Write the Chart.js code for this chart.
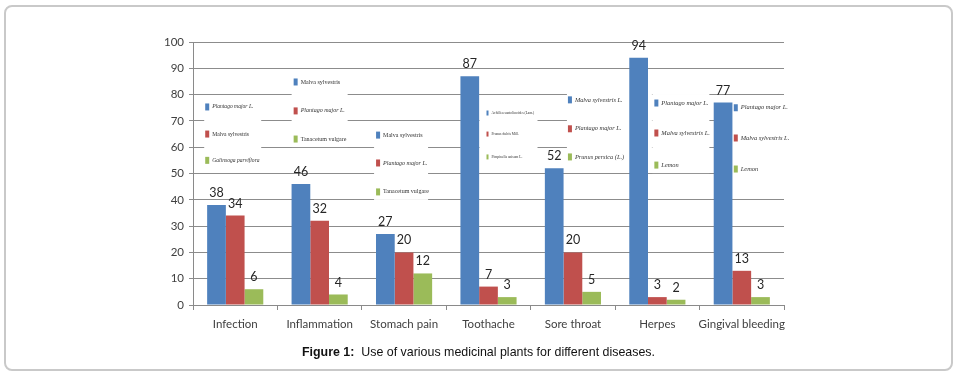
<!DOCTYPE html>
<html>
<head>
<meta charset="utf-8">
<script src="https://cdn.jsdelivr.net/npm/chart.js@4.4.1/dist/chart.umd.min.js"></script>
<style>
  html, body { margin: 0; padding: 0; background: #fff; }
  #wrap { position: relative; width: 957px; height: 382px; overflow: hidden; }
  #c { position: absolute; left: 0; top: 0; }
  #frame { position: absolute; left: 4px; top: 5px; width: 945px; height: 362px;
           border: 2px solid #c9c9c9; border-radius: 8px; pointer-events: none; }
  #caption { position: absolute; left: 0; top: 344px; width: 957px; text-align: center;
             font-family: "Liberation Sans Narrow", "Liberation Sans", Arial, sans-serif;
             font-size: 13px; color: #111; transform: scaleX(0.955); transform-origin: 478px 0; }
  #caption b { font-weight: bold; }
</style>
</head>
<body>
<div id="wrap">
  <canvas id="c" width="957" height="382"></canvas>
  <div id="frame"></div>
  <div id="caption"><b>Figure 1:</b>&nbsp; Use of various medicinal plants for different diseases.</div>
</div>
<script>
// ---- data ----
const categories = ["Infection", "Inflammation", "Stomach pain", "Toothache", "Sore throat", "Herpes", "Gingival bleeding"];
const firstPlant  = [38, 46, 27, 87, 52, 94, 77];
const secondPlant = [34, 32, 20, 7, 20, 3, 13];
const thirdPlant  = [6, 4, 12, 3, 5, 2, 3];
const yTicks = [0, 10, 20, 30, 40, 50, 60, 70, 80, 90, 100];

// plant names shown in each category's small legend box (first, second, third bar)
const plantNames = [
  ["Plantago major L.", "Malva sylvestris", "Galinsoga parviflora"],
  ["Malva sylvestris", "Plantago major L.", "Tanacetum vulgare"],
  ["Malva sylvestris", "Plantago major L.", "Tanacetum vulgare"],
  ["Achillea santolinoides (Lam.)", "Prunus dulcis Mill.", "Pimpinella anisum L."],
  ["Malva sylvestris L.", "Plantago major L.", "Prunus persica (L.)"],
  ["Plantago major L.", "Malva sylvestris L.", "Lemon"],
  ["Plantago major L.", "Malva sylvestris L.", "Lemon"]
];

// ---- styling / layout (not data) ----
const colors = ["#4F81BD", "#C0504D", "#9BBB59"];
// per-box layout: left/right offsets from category centre (px), marker offset,
// entry y positions in axis units, font size, italic flags
const boxLayout = [
  { l: -31, r: 26, m: -28, ys: [75.3, 65, 55],     fs: 5.6, it: [true, false, true] },
  { l: -28, r: 28, m: -24, ys: [84.8, 73.8, 63.1], fs: 6.0, it: [false, true, false] },
  { l: -30, r: 24, m: -26, ys: [64.6, 54, 43],     fs: 6.0, it: [false, true, false] },
  { l: -9,  r: 49, m: -1,  ys: [73, 65, 56.3],     fs: 3.6, it: [false, false, false] },
  { l: -6,  r: 79, m: -3,  ys: [78, 67, 56.3],     fs: 6.3, it: [true, true, true] },
  { l: -5,  r: 52, m: -1,  ys: [76.8, 65.4, 53.2], fs: 6.4, it: [true, true, true] },
  { l: -10, r: 48, m: -6,  ys: [75, 63.5, 51.7],   fs: 6.4, it: [true, true, true] }
];

const legendBoxes = {
  id: 'legendBoxes',
  beforeDatasetsDraw(chart) {
    const ctx = chart.ctx, xs = chart.scales.x, ys = chart.scales.y;
    ctx.save();
    categories.forEach((cat, i) => {
      const cx = xs.getPixelForValue(i);
      const b = boxLayout[i];
      const y0 = ys.getPixelForValue(b.ys[0]) - 9;
      const y1 = ys.getPixelForValue(b.ys[2]) + 8;
      ctx.fillStyle = '#ffffff';
      ctx.fillRect(cx + b.l, y0, b.r - b.l, y1 - y0);
      plantNames[i].forEach((name, k) => {
        const py = ys.getPixelForValue(b.ys[k]);
        const mw = b.fs < 5 ? 2 : 4, mh = b.fs < 5 ? 5 : 7;
        ctx.fillStyle = colors[k];
        ctx.fillRect(cx + b.m - mw / 2, py - mh / 2, mw, mh);
        ctx.fillStyle = '#333';
        ctx.font = (b.it[k] ? 'italic ' : '') + b.fs + 'px "Liberation Serif", serif';
        ctx.textAlign = 'left';
        ctx.textBaseline = 'middle';
        ctx.fillText(name, cx + b.m + mw / 2 + 3, py);
      });
    });
    ctx.restore();
  }
};

const valueLabels = {
  id: 'valueLabels',
  afterDatasetsDraw(chart) {
    const ctx = chart.ctx;
    ctx.save();
    ctx.font = '12.5px Lato, "Open Sans", sans-serif';
    ctx.fillStyle = '#262626';
    ctx.textAlign = 'center';
    ctx.textBaseline = 'middle';
    chart.data.datasets.forEach((ds, di) => {
      chart.getDatasetMeta(di).data.forEach((bar, i) => {
        ctx.fillText(String(ds.data[i]), bar.x, bar.y - 12);
      });
    });
    ctx.restore();
  }
};

new Chart(document.getElementById('c'), {
  type: 'bar',
  data: {
    labels: categories,
    datasets: [
      { label: 'Plant 1', data: firstPlant,  backgroundColor: colors[0] },
      { label: 'Plant 2', data: secondPlant, backgroundColor: colors[1] },
      { label: 'Plant 3', data: thirdPlant,  backgroundColor: colors[2] }
    ]
  },
  options: {
    responsive: false,
    animation: false,
    layout: { padding: { left: 0, right: 173, top: 42, bottom: 0 } },
    datasets: { bar: { categoryPercentage: 0.665, barPercentage: 1.0, borderWidth: 0 } },
    plugins: { legend: { display: false }, tooltip: { enabled: false } },
    scales: {
      x: {
        afterFit(s) { s.height = 77; },
        grid: { drawOnChartArea: false, drawTicks: true, tickLength: 5, color: '#8a8a8a', offset: true },
        border: { color: '#8a8a8a', width: 1 },
        ticks: { color: '#404040', font: { family: 'Lato, "Open Sans", sans-serif', size: 11.5 }, padding: 7, maxRotation: 0, autoSkip: false }
      },
      y: {
        min: 0, max: 100,
        afterFit(s) { s.width = 193; },
        afterBuildTicks(s) { s.ticks = yTicks.map(v => ({ value: v })); },
        grid: { color: '#8c8c8c', lineWidth: 1, drawTicks: true, tickLength: 4 },
        border: { color: '#8a8a8a', width: 1 },
        ticks: { color: '#404040', font: { family: 'Lato, "Open Sans", sans-serif', size: 11.5 }, padding: 5 }
      }
    }
  },
  plugins: [legendBoxes, valueLabels]
});
</script>
</body>
</html>
